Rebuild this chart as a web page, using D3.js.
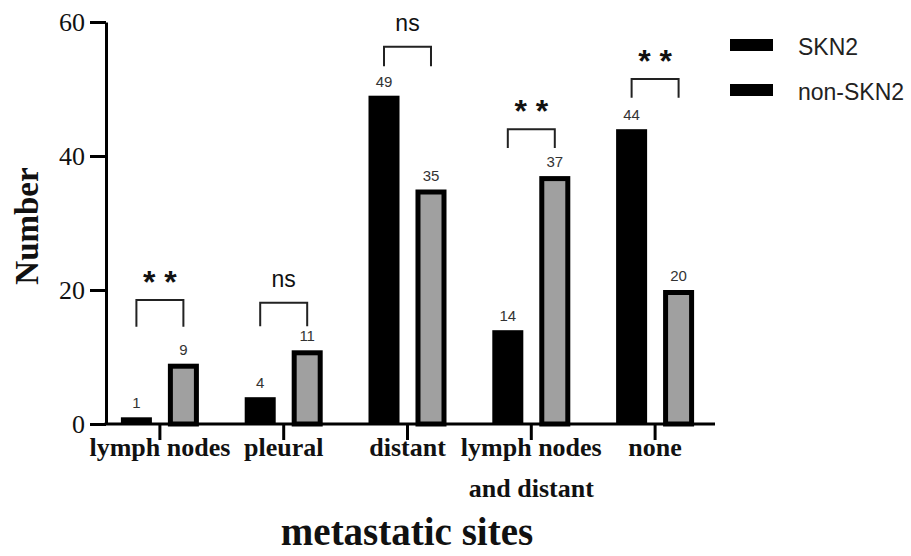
<!DOCTYPE html>
<html>
<head>
<meta charset="utf-8">
<script src="https://cdn.jsdelivr.net/npm/d3@7/dist/d3.min.js"></script>
<style>
  html, body { margin: 0; padding: 0; background: #fff; }
  svg { display: block; }
</style>
</head>
<body>
<svg id="chart" width="911" height="556"></svg>
<script>
// ---- data ----
const categories = ["lymph nodes", "pleural", "distant", "lymph nodes\nand distant", "none"];
const series = ["SKN2", "non-SKN2"];
const skn2Values = [1, 4, 49, 14, 44];
const nonSkn2Values = [9, 11, 35, 37, 20];
const sigLabels = ["* *", "ns", "ns", "* *", "* *"];
const sigTop = [18.5, 18.1, 56.3, 44.0, 51.5];
const sigBottom = [14.5, 14.6, 53.4, 41.2, 48.7];
const yTicks = [0, 20, 40, 60];

const svg = d3.select("#chart");
const serif = "'Liberation Serif', 'Times New Roman', serif";
const sans = "'Liberation Sans', Arial, sans-serif";

const y = d3.scaleLinear().domain([0, 60]).range([424, 22]);
const x = d3.scaleBand().domain(categories).range([98, 717]).paddingInner(0).paddingOuter(0);
const xSub = d3.scaleBand().domain(series).range([-39, 39]).paddingInner(0.34);
const colors = { "SKN2": "#000000", "non-SKN2": "#a0a0a0" };

const rows = categories.map((c, i) => ({
  cat: c, i,
  vals: [{ s: "SKN2", v: skn2Values[i] }, { s: "non-SKN2", v: nonSkn2Values[i] }]
}));

// ---- bars ----
const g = svg.append("g");
rows.forEach(r => {
  const cx = x(r.cat) + x.bandwidth() / 2;
  r.vals.forEach(d => {
    const bx = cx + xSub(d.s);
    const bw = xSub.bandwidth();
    if (d.s === "SKN2") {
      g.append("rect").attr("x", bx).attr("y", y(d.v)).attr("width", bw)
        .attr("height", y(0) - y(d.v)).attr("fill", "#000");
    } else {
      g.append("rect").attr("x", bx + 2.5).attr("y", y(d.v) + 2.5).attr("width", bw - 5)
        .attr("height", y(0) - y(d.v) - 2.5).attr("fill", colors["non-SKN2"])
        .attr("stroke", "#000").attr("stroke-width", 5);
    }
    g.append("text").attr("x", bx + bw / 2).attr("y", y(d.v) - 9)
      .attr("text-anchor", "middle").attr("font-family", sans).attr("font-size", 15)
      .attr("fill", "#333").text(d.v);
  });
  // significance bracket
  const x1 = cx + xSub("SKN2") + xSub.bandwidth() / 2;
  const x2 = cx + xSub("non-SKN2") + xSub.bandwidth() / 2;
  const yt = y(sigTop[r.i]), yb = y(sigBottom[r.i]);
  g.append("path").attr("d", `M${x1},${yb}V${yt}H${x2}V${yb}`)
    .attr("fill", "none").attr("stroke", "#222").attr("stroke-width", 2);
  const lab = sigLabels[r.i];
  g.append("text").attr("x", (x1 + x2) / 2)
    .attr("y", lab === "ns" ? yt - 16 : yt - 7)
    .attr("text-anchor", "middle").attr("font-family", sans)
    .attr("font-size", lab === "ns" ? 23 : 32)
    .attr("font-weight", lab === "ns" ? "normal" : "bold")
    .attr("fill", "#111").text(lab);
});

// ---- y axis ----
const yAxis = d3.axisLeft(y).tickValues(yTicks).tickSize(16).tickSizeOuter(0).tickPadding(5);
const ya = svg.append("g").attr("transform", "translate(106,0)").call(yAxis);
ya.select(".domain").attr("stroke-width", 3).attr("stroke", "#000");
ya.selectAll(".tick line").attr("stroke-width", 3).attr("stroke", "#000");
ya.selectAll(".tick text").attr("font-family", serif).attr("font-size", 26).attr("fill", "#111");

// ---- x axis ----
const xAxis = d3.axisBottom(x).tickSize(16).tickSizeOuter(0).tickFormat(() => "");
const xa = svg.append("g").attr("transform", `translate(0,${y(0)})`).call(xAxis);
xa.select(".domain").remove();
xa.append("line").attr("x1", 104.5).attr("x2", 715).attr("y1", 0).attr("y2", 0)
  .attr("stroke", "#000").attr("stroke-width", 3);
xa.selectAll(".tick line").attr("stroke-width", 3).attr("stroke", "#000");
xa.selectAll(".tick").each(function(c) {
  const lines = c.split("\n");
  const t = d3.select(this).append("text").attr("y", 32)
    .attr("text-anchor", "middle").attr("font-family", serif).attr("font-size", 26)
    .attr("font-weight", "bold").attr("fill", "#111");
  lines.forEach((l, k) => t.append("tspan").attr("x", 0).attr("dy", k === 0 ? 0 : 41).text(l));
});

// ---- axis titles ----
svg.append("text").attr("transform", "translate(38,226) rotate(-90)")
  .attr("text-anchor", "middle").attr("font-family", serif).attr("font-size", 33)
  .attr("font-weight", "bold").attr("fill", "#111").text("Number");
svg.append("text").attr("x", 407).attr("y", 545)
  .attr("text-anchor", "middle").attr("font-family", serif).attr("font-size", 39)
  .attr("font-weight", "bold").attr("fill", "#111").text("metastatic sites");

// ---- legend ----
const leg = svg.append("g");
series.forEach((s, k) => {
  const ly = 39 + k * 45;
  leg.append("rect").attr("x", 730).attr("y", ly).attr("width", 43).attr("height", 12).attr("fill", "#000");
  leg.append("text").attr("x", 798).attr("y", ly + 16).attr("font-family", sans)
    .attr("font-size", 23).attr("fill", "#222").text(s);
});
</script>
</body>
</html>
